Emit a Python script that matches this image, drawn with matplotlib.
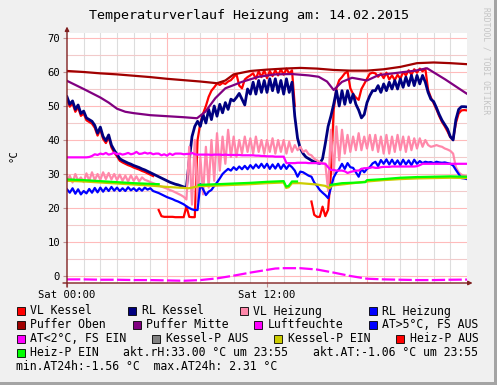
#!/usr/bin/env python3

"""Temperaturverlauf Heizung am 14.02.2015 - rrdtool style chart."""

import numpy as np
import matplotlib
matplotlib.use("Agg")
import matplotlib.pyplot as plt
from matplotlib.patches import Rectangle

nan = np.nan

# 10-minute samples, hours 0 .. 24 (145 values)
hours = np.arange(145) / 6.0

rl_kessel = [
    52.7, 50.5, 51.5, 49.0, 50.3, 47.8, 48.5, 46.5, 46.0, 45.5, 44.3, 42.0,
    43.8, 41.0, 39.8, 41.5, 38.5, 37.0, 35.8, 34.5, 34.0, 33.6, 33.2, 32.9,
    32.5, 32.2, 31.9, 31.5, 31.2, 30.8, 30.4, 30.0, 29.6, 29.2, 28.8, 28.4,
    28.0, 27.6, 27.3, 27.0, 26.8, 26.5, 26.2, 26.0, 34.0, 41.0, 44.0, 45.5,
    44.0, 47.5, 45.0, 49.0, 46.0, 50.0, 47.0, 50.5, 48.0, 51.0, 49.0, 52.0,
    51.5, 52.5, 53.7, 52.0, 50.3, 55.0, 53.5, 57.0, 53.5, 57.5, 54.0, 57.5,
    54.0, 58.0, 54.5, 58.0, 54.0, 57.5, 53.5, 58.0, 54.0, 57.0, 47.0, 40.5,
    37.5, 36.0, 35.0, 34.5, 34.0, 33.6, 33.3, 33.1, 34.5, 39.0, 44.0, 47.0,
    50.5, 54.5, 50.0, 54.5, 50.5, 54.5, 51.0, 53.5, 50.5, 48.8, 46.5, 47.5,
    51.0, 53.0, 54.5, 54.5, 56.0, 54.0, 56.5, 54.5, 57.0, 55.0, 57.5, 55.0,
    58.0, 55.5, 58.5, 56.0, 59.0, 56.0, 59.0, 56.5, 59.0, 57.0, 54.0, 52.0,
    51.3, 49.5, 47.5, 45.8, 44.5, 43.2, 41.0, 40.0, 46.0, 49.0, 49.8, 49.8,
    49.7]

vl_kessel = [
    52.0, 49.8, 50.8, 48.3, 49.6, 47.1, 47.8, 45.8, 45.3, 44.8, 43.6, 41.3,
    43.1, 40.3, 39.1, 40.8, 37.8, 36.3, 35.2, 33.9, 33.4, 33.0, 32.6, 32.3,
    31.9, 31.6, 31.3, 30.9, 30.6, 30.2, 29.8, 29.4, nan, 19.4, 17.6, 17.4,
    17.4, 17.4, 17.4, 17.3, 17.3, 17.3, 17.3, 20.5, 17.4, 17.3, 17.3, 40.0,
    45.0, 47.8, 50.0, 52.7, 54.5, 55.5, 56.6, 56.2, 56.8, 56.5, 57.2, 57.6,
    58.5, 59.4, 56.0, 55.2, 57.8, 58.5, 59.0, 59.6, 58.0, 60.2, 58.5, 60.5,
    58.2, 60.3, 58.8, 60.5, 59.0, 60.8, 59.2, 61.0, 59.5, 60.5, 50.0, nan,
    nan, nan, nan, nan, 21.9, 18.0, 17.4, 17.4, 20.4, 17.6, 19.5, 30.0,
    48.8, 55.2, 57.6, 58.5, 59.6, 60.1, 55.2, 53.5, 52.5, 51.8, 55.0, 56.5,
    58.0, 59.5, 59.8, 59.6, 58.6, 59.5, 58.2, 59.8, 57.8, 59.0, 57.6, 59.2,
    58.0, 60.0, 59.0, 60.5, 59.2, 60.8, 59.8, 61.0, 60.2, 61.0, 54.7, 52.5,
    50.8, 49.0, 47.0, 45.3, 44.0, 42.5, 40.8, 40.2, 45.0, 47.8, 48.7, 48.8,
    48.7]

rl_heizung = [
    25.5, 24.5, 25.8, 24.2, 25.5, 24.0, 25.0, 24.3, 25.6, 24.5, 25.9, 24.6,
    26.0, 24.8, 26.0, 25.0, 26.2, 25.1, 26.0, 25.0, 25.8, 25.0, 26.1, 25.2,
    25.8, 25.0, 25.8, 25.1, 26.0, 25.4, 25.8, 25.0, 24.7, 24.4, 24.0, 23.6,
    23.2, 22.9, 22.6, 22.2, 21.9, 21.5, 21.1, 20.5, 20.0, 19.6, 19.4, 19.4,
    27.0, 25.5, 23.8, 24.8, 25.3, 26.5, 27.5, 28.7, 30.0, 30.8, 31.5, 31.0,
    32.0, 31.2, 32.2, 31.4, 32.4, 31.4, 32.6, 31.6, 32.8, 31.8, 33.0, 31.8,
    33.0, 31.5, 32.8, 31.6, 33.0, 31.5, 32.8, 31.5, 32.7, 32.0, 31.0, 29.2,
    30.7, 30.5, 30.0, 29.5, 29.2, 27.5, 26.5, 25.3, 24.5, 23.8, 22.9, 26.0,
    29.0, 30.5, 31.5, 33.0, 31.5, 33.2, 32.0, 31.8, 30.5, 29.2, 31.5, 30.5,
    31.5, 32.0, 33.1, 33.6, 32.3, 34.1, 33.0, 34.3, 32.8, 34.2, 32.8, 34.0,
    32.6, 34.2, 32.8, 34.0, 32.6, 34.2, 33.0, 33.8, 33.2, 33.6, 33.4, 33.5,
    33.2, 33.6, 33.4, 33.3, 33.4, 33.2, 33.0, 32.5, 31.2, 30.0, 28.8, 28.7,
    28.5]

vl_heizung = [
    28.0, 29.5, 27.5, 30.0, 28.0, 29.0, 27.6, 30.2, 28.0, 30.5, 28.2, 30.0,
    28.3, 30.5, 28.5, 30.3, 28.4, 30.0, 28.2, 29.8, 28.0, 29.5, 27.8, 29.6,
    28.0, 29.3, 27.8, 29.0, 28.3, 28.0, 27.6, 27.3, 27.0, 26.6, 26.3, 26.0,
    25.7, 25.3, 25.0, 24.6, 24.2, 23.8, 23.3, 22.5, 38.0, 21.0, 40.0, 22.0,
    35.0, 24.0, 38.0, 26.0, 40.0, 28.0, 42.0, 31.0, 41.0, 33.0, 43.0, 35.0,
    41.0, 35.0, 40.0, 36.0, 41.0, 36.5, 40.5, 36.0, 41.0, 36.5, 40.0, 36.0,
    40.0, 36.5, 40.5, 36.0, 40.0, 36.5, 40.0, 36.0, 39.5, 36.5, 38.5, 37.0,
    38.0, 36.5, 37.0, 35.8, 35.5, 34.5, 34.0, 33.5, 33.1, 33.0, 25.0, 43.0,
    30.0, 44.0, 34.0, 43.0, 36.0, 41.5, 36.5, 41.0, 37.0, 42.0, 37.0, 41.0,
    37.5, 41.5, 37.0, 41.5, 36.5, 41.0, 36.0, 41.5, 36.0, 41.0, 36.5, 41.5,
    37.0, 41.0, 36.5, 41.0, 37.0, 40.5, 37.5, 40.5, 38.0, 40.0, 38.5, 38.0,
    38.2, 38.5, 38.2, 38.0, 37.5, 37.2, 36.8, 36.0, 32.0, 30.5, 29.8, 29.5,
    29.3]

luftfeuchte = [
    34.9, 34.9, 34.9, 34.9, 34.9, 34.9, 34.9, 34.9, 35.0, 35.3, 35.8, 35.6,
    36.0, 35.8, 36.2, 35.7, 35.9, 36.3, 35.8, 36.0, 35.7, 35.9, 36.2, 35.8,
    36.0, 36.5, 35.9, 36.0, 36.3, 36.0, 36.2, 35.8, 36.0, 36.0, 35.5, 35.8,
    35.4, 36.0, 35.6, 36.0, 36.0, 36.0, 35.8, 35.9, 35.9, 36.2, 35.8, 35.7,
    35.7, 35.7, 35.7, 35.7, 35.6, 35.7, 35.7, 35.7, 35.6, 35.7, 35.6, 35.6,
    35.6, 35.6, 35.6, 35.5, 35.5, 35.5, 35.5, 35.5, 35.4, 35.4, 35.3, 35.3,
    35.2, 35.2, 35.2, 35.1, 35.1, 35.1, 35.1, 33.2, 33.2, 33.2, 33.2, 33.3,
    33.3, 33.3, 33.3, 33.2, 33.2, 33.2, 33.2, 33.1, 33.1, 33.0, 32.0, 31.2,
    31.2, 31.0, 31.0, 31.0, 30.8, 30.3, 30.6, 30.8, 31.0, 31.0, 31.5, 31.7,
    31.7, 31.8, 32.0, 31.8, 31.8, 32.0, 32.1, 32.1, 32.1, 32.2, 32.2, 32.2,
    32.2, 32.2, 32.2, 32.2, 32.2, 32.2, 32.3, 32.6, 33.0, 33.0, 33.0, 33.0,
    33.0, 33.0, 33.0, 33.0, 33.0, 33.0, 33.0, 33.0, 33.0, 33.0, 33.0, 33.0,
    33.0]

puffer_oben_t = [0, 1, 2, 3, 4, 5, 6, 7, 8, 9, 9.5, 10, 10.5, 11, 12, 13, 14,
                 15, 16, 17, 18, 19, 20, 21, 22, 23, 24]
puffer_oben = [60.3, 60.0, 59.6, 59.3, 58.9, 58.5, 58.0, 57.6, 57.2, 56.7,
               57.5, 59.3, 59.8, 60.3, 60.7, 61.0, 61.2, 61.0, 60.6, 60.4,
               60.4, 60.8, 61.5, 62.6, 62.8, 62.6, 62.3]

puffer_mitte_t = [0, 1, 2, 2.5, 3, 3.5, 4, 5, 6, 7, 7.8, 8.3, 8.9, 9.5, 10.5,
                  11.5, 12.5, 13.5, 14.5, 15.1, 15.6, 16.0, 16.5, 17.1, 18.0,
                  18.7, 19.9, 20.9, 21.6, 22.7, 23.9, 24]
puffer_mitte = [57.4, 55.0, 52.5, 51.0, 49.2, 48.3, 47.9, 47.3, 47.0, 46.7,
                46.4, 48.3, 52.3, 55.2, 57.1, 58.6, 59.3, 59.4, 59.0, 58.6,
                57.2, 54.7, 57.1, 58.3, 57.5, 59.1, 59.8, 60.4, 61.1, 57.8,
                53.9, 53.6]

heizp_t = [0, 1, 2, 3, 4, 5, 5.5, 5.6, 7.9, 9, 10, 11, 12, 13, 13.15, 13.3,
           13.5, 13.8, 13.9, 15.8, 16.5, 17.5, 17.9, 18, 19, 20, 21, 22, 23, 24]
heizp_ein = [28.4, 28.2, 27.9, 27.6, 27.3, 27.1, 27.0, nan, 26.8, 27.0, 27.2,
             27.4, 27.7, 27.9, 26.3, 26.5, 27.8, 27.8, nan, 26.8, 27.3, 27.5,
             27.6, 28.2, 28.5, 28.9, 29.1, 29.2, 29.3, 29.2]

kesselp_t = [0, 1, 2, 3, 4, 5, 6, 7, 7.3, 7.9, 9, 10, 11, 12, 13, 13.15, 13.3,
             13.5, 14, 15, 15.5, 15.75, 15.9, 17, 18, 19, 20, 21, 22, 23, 24]
kesselp_ein = [28.0, 27.8, 27.5, 27.2, 26.9, 26.6, 26.2, 25.9, 25.8, 26.4,
               26.6, 26.8, 27.0, 27.3, 27.5, 25.9, 26.1, 27.3, 27.3, 26.9,
               26.5, 25.8, 26.6, 27.2, 27.8, 28.2, 28.5, 28.7, 28.8, 28.9,
               28.8]

at_t = [0, 1, 2, 3, 4, 5, 6, 7, 8, 9, 10, 11, 12, 12.5, 13, 13.5, 14, 15, 16,
        17, 18, 19, 20, 21, 22, 23, 24]
aussen = [-1.0, -1.0, -1.1, -1.1, -1.2, -1.2, -1.3, -1.4, -1.2, -0.7, 0.1,
          1.0, 1.8, 2.2, 2.3, 2.3, 2.3, 1.9, 1.0, 0.0, -0.8, -1.0, -1.1, -1.2,
          -1.2, -1.1, -1.06]

legend_labels = [["VL Kessel", "RL Kessel", "VL Heizung", "RL Heizung"],
                 ["Puffer Oben", "Puffer Mitte", "Luftfeuchte", "AT>5°C, FS AUS"],
                 ["AT<2°C, FS EIN", "Kessel-P AUS", "Kessel-P EIN", "Heiz-P AUS"],
                 ["Heiz-P EIN"]]
legend_colors = [["#FF0000", "#000080", "#FF88AA", "#0000FF"],
                 ["#A00000", "#800080", "#FF00FF", "#0000FF"],
                 ["#FF00FF", "#808080", "#CCCC00", "#FF0000"],
                 ["#00FF00"]]
comments = ["akt.rH:33.00 °C um 23:55", "akt.AT:-1.06 °C um 23:55",
            "min.AT24h:-1.56 °C  max.AT24h: 2.31 °C"]

W, H = 497, 385
mono = "DejaVu Sans Mono"
axis_col = "#802020"


def fx(x):
    return x / W


def fy(y):
    return 1 - y / H


fig = plt.figure(figsize=(W / 100, H / 100), dpi=100, facecolor="#F0F0F0")
ax = fig.add_axes([fx(67), fy(283), 400 / W, 250 / H])
ax.set_facecolor("white")
ax.set_xlim(0, 24)
ax.set_ylim(-2.06, 71.47)

# grid
for h in range(1, 24):
    ax.axvline(h, color="#FFBBBB" if h % 6 == 0 else "#DDDDDD", lw=0.8, zorder=0)
for v in range(0, 75, 5):
    ax.axhline(v, color="#FFBBBB" if v % 10 == 0 else "#F2CACA", lw=0.8, zorder=0)

# series
ax.plot(hours, vl_kessel, color="#FF0000", lw=1.6)
ax.plot(hours, rl_kessel, color="#000080", lw=2.0)
ax.plot(hours, vl_heizung, color="#FF88AA", lw=1.6)
ax.plot(hours, rl_heizung, color="#0000FF", lw=1.6)
ax.plot(puffer_oben_t, puffer_oben, color="#A00000", lw=1.6)
ax.plot(puffer_mitte_t, puffer_mitte, color="#800080", lw=1.6)
ax.plot(hours, luftfeuchte, color="#FF00FF", lw=1.6)
ax.plot(at_t, aussen, color="#FF00FF", lw=1.6, linestyle=(0, (6, 1.5)))
ax.plot(kesselp_t, kesselp_ein, color="#CCCC00", lw=1.6)
ax.plot(heizp_t, heizp_ein, color="#00FF00", lw=1.6)

# axes
for s in ax.spines.values():
    s.set_visible(False)
ax.annotate("", xy=(0, 1.026), xytext=(0, -0.016), xycoords="axes fraction",
            arrowprops=dict(arrowstyle="-|>", color=axis_col, lw=1,
                            mutation_scale=6, shrinkA=0, shrinkB=0))
ax.annotate("", xy=(1.014, 0), xytext=(-0.01, 0), xycoords="axes fraction",
            arrowprops=dict(arrowstyle="-|>", color=axis_col, lw=1,
                            mutation_scale=6, shrinkA=0, shrinkB=0))

ax.set_yticks(range(0, 71, 10))
ax.set_yticklabels([str(v) for v in range(0, 71, 10)], family=mono, fontsize=7.6)
ax.set_xticks([0, 12])
ax.set_xticklabels(["Sat 00:00", "Sat 12:00"], family=mono, fontsize=7.6)
ax.tick_params(axis="both", length=3, width=0.8, color="#C09090", pad=2)

fig.text(fx(249), fy(16), "Temperaturverlauf Heizung am: 14.02.2015",
         family=mono, fontsize=9.6, ha="center", va="center")
fig.text(fx(13), fy(156), "°C", family=mono, fontsize=7.6, rotation=90,
         ha="center", va="center")
fig.text(fx(486), fy(7), "RRDTOOL / TOBI OETIKER", family=mono, fontsize=5.8,
         rotation=270, ha="center", va="top", color="#C4C4C4")

# legend
row_y = [311, 325, 339, 353]
box_x = [[16.5, 128, 239.5, 368.5],
         [16.5, 133, 254, 368.5],
         [16.5, 152, 274, 396],
         [16.5]]
for r, labels in enumerate(legend_labels):
    for c, lab in enumerate(labels):
        bx = box_x[r][c]
        fig.add_artist(Rectangle((fx(bx), fy(row_y[r] + 4)), 8 / W, 8 / H,
                                 transform=fig.transFigure,
                                 facecolor=legend_colors[r][c],
                                 edgecolor="black", lw=0.6))
        fig.text(fx(bx + 13.5), fy(row_y[r]), lab, family=mono, fontsize=8.3,
                 ha="left", va="center")
fig.text(fx(123), fy(353), comments[0], family=mono, fontsize=8.3,
         ha="left", va="center")
fig.text(fx(313), fy(353), comments[1], family=mono, fontsize=8.3,
         ha="left", va="center")
fig.text(fx(16), fy(367), comments[2], family=mono, fontsize=8.3,
         ha="left", va="center")

# frame shadow
fig.add_artist(Rectangle((fx(494), 0), 3 / W, 1, transform=fig.transFigure,
                         facecolor="#A4A4A4", edgecolor="none"))
fig.add_artist(Rectangle((0, 0), 1, 3 / H, transform=fig.transFigure,
                         facecolor="#A4A4A4", edgecolor="none"))

fig.savefig("out.png", dpi=100, facecolor=fig.get_facecolor())
